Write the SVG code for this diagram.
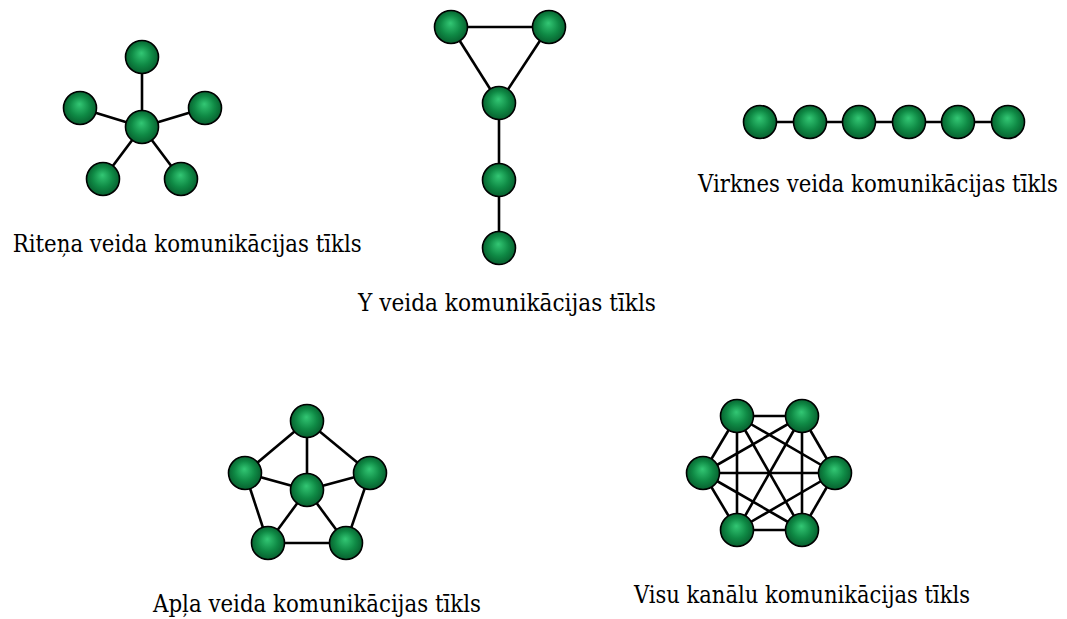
<svg xmlns="http://www.w3.org/2000/svg" width="1067" height="619" viewBox="0 0 1067 619">
<style>
.n{fill:url(#g);stroke:#000;stroke-width:1.6}
.e line{stroke:#000;stroke-width:2.6}
.t{font-family:"DejaVu Serif","Liberation Serif",serif;font-stretch:condensed;font-size:24px;fill:#000}
</style>
<defs>
<radialGradient id="g" cx="0.5" cy="0.5" r="0.55" fx="0.48" fy="0.38">
<stop offset="0" stop-color="#33c774"/>
<stop offset="0.55" stop-color="#0f8a45"/>
<stop offset="1" stop-color="#06582b"/>
</radialGradient>
</defs>
<rect width="1067" height="619" fill="#fff"/>
<g id="connectors" class="e">
<line x1="142" y1="127" x2="142" y2="57"/>
<line x1="142" y1="127" x2="80" y2="108"/>
<line x1="142" y1="127" x2="205" y2="108"/>
<line x1="142" y1="127" x2="103" y2="179"/>
<line x1="142" y1="127" x2="181" y2="179"/>
<line x1="451" y1="27" x2="549" y2="27"/>
<line x1="451" y1="27" x2="499" y2="103"/>
<line x1="549" y1="27" x2="499" y2="103"/>
<line x1="499" y1="103" x2="499" y2="248"/>
<line x1="760" y1="122" x2="1008" y2="122"/>
<line x1="307" y1="421" x2="245" y2="473"/>
<line x1="307" y1="421" x2="370" y2="473"/>
<line x1="245" y1="473" x2="268" y2="543"/>
<line x1="370" y1="473" x2="346" y2="543"/>
<line x1="268" y1="543" x2="346" y2="543"/>
<line x1="307" y1="490" x2="307" y2="421"/>
<line x1="307" y1="490" x2="245" y2="473"/>
<line x1="307" y1="490" x2="370" y2="473"/>
<line x1="307" y1="490" x2="268" y2="543"/>
<line x1="307" y1="490" x2="346" y2="543"/>
<line x1="737" y1="416" x2="802" y2="416"/>
<line x1="737" y1="416" x2="703" y2="473"/>
<line x1="737" y1="416" x2="835" y2="473"/>
<line x1="737" y1="416" x2="737" y2="530"/>
<line x1="737" y1="416" x2="802" y2="530"/>
<line x1="802" y1="416" x2="703" y2="473"/>
<line x1="802" y1="416" x2="835" y2="473"/>
<line x1="802" y1="416" x2="737" y2="530"/>
<line x1="802" y1="416" x2="802" y2="530"/>
<line x1="703" y1="473" x2="835" y2="473"/>
<line x1="703" y1="473" x2="737" y2="530"/>
<line x1="703" y1="473" x2="802" y2="530"/>
<line x1="835" y1="473" x2="737" y2="530"/>
<line x1="835" y1="473" x2="802" y2="530"/>
<line x1="737" y1="530" x2="802" y2="530"/>
</g>
<g id="wheel">
<circle class="n" cx="142" cy="57" r="16.5"/>
<circle class="n" cx="80" cy="108" r="16.5"/>
<circle class="n" cx="205" cy="108" r="16.5"/>
<circle class="n" cx="142" cy="127" r="16.5"/>
<circle class="n" cx="103" cy="179" r="16.5"/>
<circle class="n" cx="181" cy="179" r="16.5"/>
<text class="t" x="12.7" y="252" textLength="349" lengthAdjust="spacingAndGlyphs">Riteņa veida komunikācijas tīkls</text>
</g>
<g id="y-net">
<circle class="n" cx="451" cy="27" r="16.5"/>
<circle class="n" cx="549" cy="27" r="16.5"/>
<circle class="n" cx="499" cy="103" r="16.5"/>
<circle class="n" cx="499" cy="180" r="16.5"/>
<circle class="n" cx="499" cy="248" r="16.5"/>
<text class="t" x="358" y="310.5" textLength="298" lengthAdjust="spacingAndGlyphs">Y veida komunikācijas tīkls</text>
</g>
<g id="chain">
<circle class="n" cx="760" cy="122" r="16.5"/>
<circle class="n" cx="810" cy="122" r="16.5"/>
<circle class="n" cx="859" cy="122" r="16.5"/>
<circle class="n" cx="909" cy="122" r="16.5"/>
<circle class="n" cx="958" cy="122" r="16.5"/>
<circle class="n" cx="1008" cy="122" r="16.5"/>
<text class="t" x="698" y="191.5" textLength="360" lengthAdjust="spacingAndGlyphs">Virknes veida komunikācijas tīkls</text>
</g>
<g id="circle-net">
<circle class="n" cx="307" cy="421" r="16.5"/>
<circle class="n" cx="245" cy="473" r="16.5"/>
<circle class="n" cx="370" cy="473" r="16.5"/>
<circle class="n" cx="307" cy="490" r="16.5"/>
<circle class="n" cx="268" cy="543" r="16.5"/>
<circle class="n" cx="346" cy="543" r="16.5"/>
<text class="t" x="153" y="612" textLength="328" lengthAdjust="spacingAndGlyphs">Apļa veida komunikācijas tīkls</text>
</g>
<g id="full-net">
<circle class="n" cx="737" cy="416" r="16.5"/>
<circle class="n" cx="802" cy="416" r="16.5"/>
<circle class="n" cx="703" cy="473" r="16.5"/>
<circle class="n" cx="835" cy="473" r="16.5"/>
<circle class="n" cx="737" cy="530" r="16.5"/>
<circle class="n" cx="802" cy="530" r="16.5"/>
<text class="t" x="634" y="603" textLength="336" lengthAdjust="spacingAndGlyphs">Visu kanālu komunikācijas tīkls</text>
</g>
</svg>
